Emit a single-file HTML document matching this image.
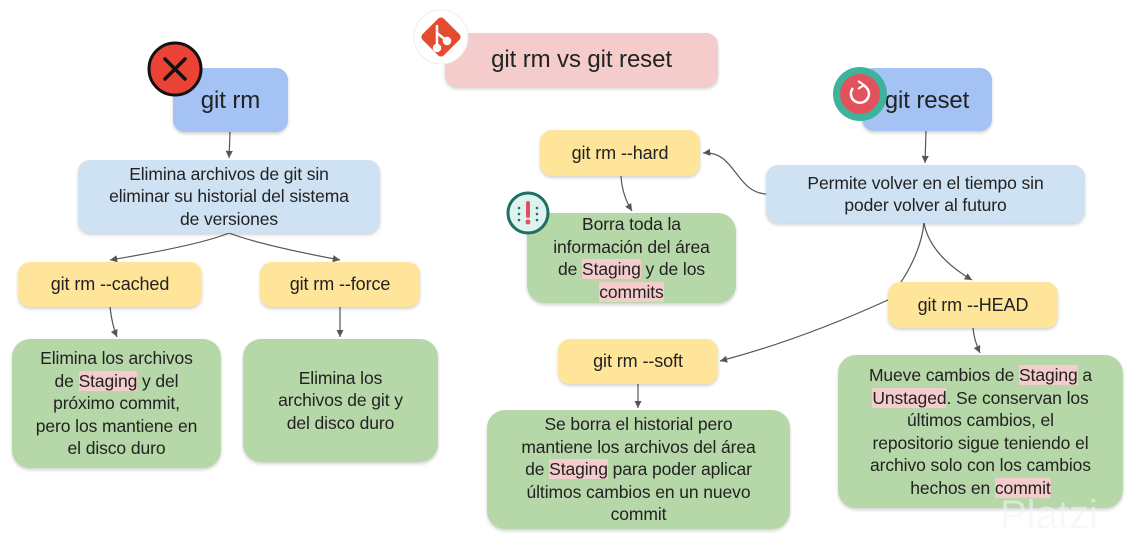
<!DOCTYPE html>
<html><head><meta charset="utf-8"><style>
body{margin:0;width:1133px;height:539px;background:#fff;position:relative;overflow:hidden;font-family:"Liberation Sans",sans-serif;color:#222}
.b{position:absolute;box-sizing:border-box;border-radius:12px;display:flex;align-items:center;justify-content:center;text-align:center;box-shadow:0 2px 3px rgba(0,0,0,.18);font-size:17.5px;line-height:22.5px;letter-spacing:-0.1px}
.b>div{width:100%;white-space:nowrap}
.bl{background:#a4c2f4;font-size:24px}
.lb{background:#cfe2f3}
.y{background:#ffe599;font-size:18px}
.g{background:#b6d7a8;border-radius:18px}
.pk{background:#f4cccc}
mark{background:#f4cccc;color:inherit}
svg{position:absolute;left:0;top:0}
</style></head><body>
<svg width="1133" height="539">
<defs><marker id="a" markerWidth="8" markerHeight="8" refX="6" refY="3" orient="auto"><path d="M0,0 L6,3 L0,6 z" fill="#555"/></marker></defs>
<g fill="none" stroke="#555" stroke-width="1.2" marker-end="url(#a)">
<path d="M230,132 L229,158"/>
<path d="M229,233 Q200,245 110,260"/>
<path d="M229,233 Q260,245 340,260"/>
<path d="M110,307 Q112,325 117,337"/>
<path d="M340,307 L340,337"/>
<path d="M926,131 L925,163"/>
<path d="M766,194 C735,192 735,150 703,153"/>
<path d="M621,176 Q622,195 632,211"/>
<path d="M924,223 Q930,255 972,280"/>
<path d="M924,223 Q920,260 888,300 Q800,340 720,361"/>
<path d="M973,328 Q974,340 980,353"/>
<path d="M638,384 L638,408"/>
</g>
</svg>
<div class="b pk" style="left:445px;top:33px;width:273px;height:54px;font-size:24px"><div>git rm vs git reset</div></div>
<div class="b bl" style="left:173px;top:68px;width:115px;height:64px;padding-top:2px"><div>git rm</div></div>
<div class="b lb" style="left:78px;top:160px;width:302px;height:73px"><div>Elimina archivos de git sin<br>eliminar su historial del sistema<br>de versiones</div></div>
<div class="b y" style="left:18px;top:262px;width:184px;height:45px"><div>git rm --cached</div></div>
<div class="b y" style="left:260px;top:262px;width:160px;height:45px"><div>git rm --force</div></div>
<div class="b g" style="left:12px;top:339px;width:209px;height:129px"><div>Elimina los archivos<br>de <mark>Staging</mark> y del<br>próximo commit,<br>pero los mantiene en<br>el disco duro</div></div>
<div class="b g" style="left:243px;top:339px;width:195px;height:123px"><div>Elimina los<br>archivos de git y<br>del disco duro</div></div>
<div class="b y" style="left:540px;top:130px;width:160px;height:46px"><div>git rm --hard</div></div>
<div class="b g" style="left:527px;top:213px;width:209px;height:90px"><div>Borra toda la<br>información del área<br>de <mark>Staging</mark> y de los<br><mark>commits</mark></div></div>
<div class="b bl" style="left:862px;top:68px;width:130px;height:63px;padding-top:4px"><div>git reset</div></div>
<div class="b lb" style="left:766px;top:165px;width:319px;height:58px"><div>Permite volver en el tiempo sin<br>poder volver al futuro</div></div>
<div class="b y" style="left:888px;top:282px;width:170px;height:46px"><div>git rm --HEAD</div></div>
<div class="b y" style="left:558px;top:339px;width:160px;height:45px"><div>git rm --soft</div></div>
<div class="b g" style="left:487px;top:410px;width:303px;height:119px"><div>Se borra el historial pero<br>mantiene los archivos del área<br>de <mark>Staging</mark> para poder aplicar<br>últimos cambios en un nuevo<br>commit</div></div>
<div class="b g" style="left:838px;top:355px;width:285px;height:153px"><div>Mueve cambios de <mark>Staging</mark> a<br><mark>Unstaged</mark>. Se conservan los<br>últimos cambios, el<br>repositorio sigue teniendo el<br>archivo solo con los cambios<br>hechos en <mark>commit</mark></div></div>
<svg width="1133" height="539">
<circle cx="175" cy="69" r="26" fill="#ea4335" stroke="#111" stroke-width="3"/>
<path d="M165,59 L185,79 M185,59 L165,79" stroke="#111" stroke-width="3.5" stroke-linecap="round"/>
<circle cx="441" cy="37" r="27" fill="#fff" stroke="#eee" stroke-width="1"/>
<g transform="translate(441,37) rotate(45)"><rect x="-15" y="-15" width="30" height="30" rx="4" fill="#e44c30"/></g>
<g stroke="#fff" stroke-width="2.5" fill="#fff"><path d="M437,25 L437,49 M437,33 L447,41"/><circle cx="437" cy="48" r="3"/><circle cx="447" cy="41" r="3"/></g>
<circle cx="860" cy="94" r="27" fill="#3cb39a"/>
<circle cx="860" cy="94" r="20" fill="#e2525d"/>
<path d="M853,88 A9,9 0 1 0 862,85" fill="none" stroke="#fff" stroke-width="2.5"/>
<path d="M858,81 L864,85 L858,89" fill="none" stroke="#fff" stroke-width="2"/>
<circle cx="528" cy="213" r="20" fill="#dff3ee" stroke="#1f6f66" stroke-width="3"/>
<path d="M528,203 L528,216" stroke="#e2525d" stroke-width="4" stroke-linecap="round"/>
<circle cx="528" cy="222" r="2.5" fill="#e2525d"/>
<g fill="#1f6f66"><circle cx="519" cy="208" r="1.3"/><circle cx="519" cy="214" r="1.3"/><circle cx="519" cy="220" r="1.3"/><circle cx="537" cy="208" r="1.3"/><circle cx="537" cy="214" r="1.3"/><circle cx="537" cy="220" r="1.3"/></g>
<text x="1000" y="528" font-family="Liberation Sans" font-size="40" fill="#f3f5f2" opacity="0.6">Platzi</text>
</svg>
</body></html>
